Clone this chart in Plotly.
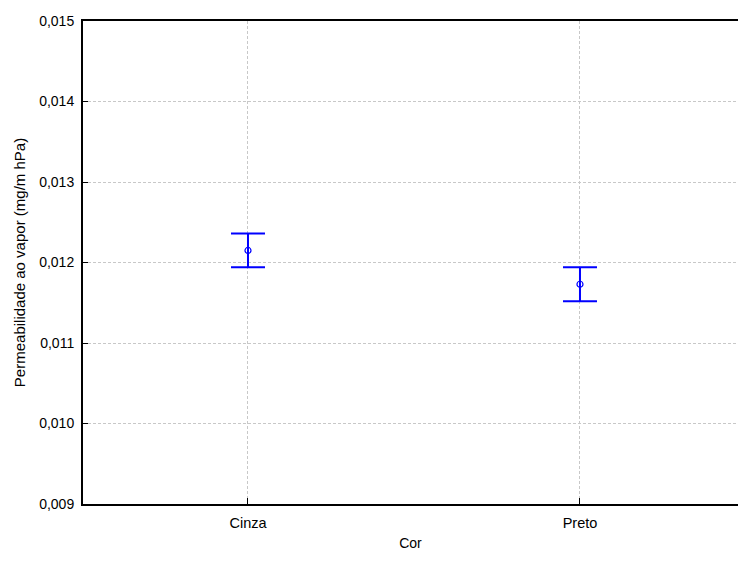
import plotly.graph_objects as go

# Mean vapour permeability per colour group, with symmetric error half-widths
categories = ["Cinza", "Preto"]
means = [0.01215, 0.01173]
errors = [0.00021, 0.00021]

y_ticks = [0.009, 0.010, 0.011, 0.012, 0.013, 0.014, 0.015]

blue = "#0000ff"
grid = dict(showgrid=True, gridcolor="#c8c8c8", gridwidth=1, griddash="3px,2px")

fig = go.Figure()
fig.add_trace(go.Scatter(
    x=[0, 1],
    y=means,
    mode="markers",
    marker=dict(symbol="circle-open", size=6, color=blue, line=dict(width=1.2, color=blue)),
    error_y=dict(type="data", array=errors, visible=True, color=blue, thickness=2, width=17),
    showlegend=False,
))

fig.update_layout(
    width=738,
    height=561,
    margin=dict(l=83, r=0, t=21, b=57),
    paper_bgcolor="white",
    plot_bgcolor="white",
    separators=",.",
    font=dict(family="Liberation Sans, Arial, sans-serif", size=14, color="black"),
    xaxis=dict(
        range=[-0.497, 1.476],
        tickmode="array",
        tickvals=[0, 1],
        ticktext=categories,
        ticks="inside",
        ticklen=6,
        tickcolor="black",
        ticklabelstandoff=5,
        showline=True,
        linecolor="black",
        linewidth=2,
        mirror=True,
        zeroline=False,
        title=dict(text="Cor", standoff=8, font=dict(size=14)),
        tickfont=dict(size=14.5),
        **grid,
    ),
    yaxis=dict(
        range=[0.009, 0.015],
        tickmode="array",
        tickvals=y_ticks,
        tickformat=".3f",
        ticks="inside",
        ticklen=5,
        tickcolor="black",
        ticklabelstandoff=4,
        showline=True,
        linecolor="black",
        linewidth=2,
        zeroline=False,
        title=dict(text="Permeabilidade ao vapor (mg/m hPa)", standoff=10, font=dict(size=15)),
        tickfont=dict(size=14),
        **grid,
    ),
)

fig.write_html("out.html")
